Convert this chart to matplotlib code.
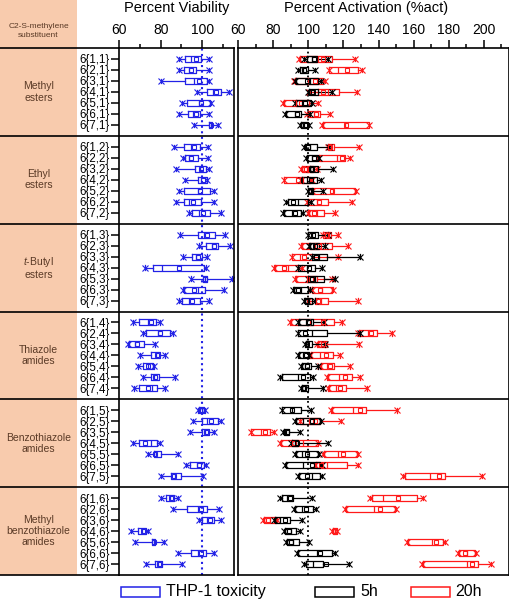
import numpy as np
import matplotlib
matplotlib.use('Agg')
import matplotlib.pyplot as plt
from matplotlib.patches import Rectangle
from matplotlib.ticker import MultipleLocator

plt.rcParams['font.family'] = ['Liberation Sans', 'DejaVu Sans']
plt.rcParams['mathtext.fontset'] = 'custom'
plt.rcParams['mathtext.it'] = 'Liberation Sans:italic'
plt.rcParams['mathtext.rm'] = 'Liberation Sans'

# Categories
groups = ['Methyl\nesters', 'Ethyl\nesters', '$t$-Butyl\nesters', 'Thiazole\namides',
          'Benzothiazole\namides', 'Methyl\nbenzothiazole\namides']
compounds = ['6{%d,%d}' % (i, g) for g in range(1, 7) for i in range(1, 8)]

# Box stats per compound: (min, q1, median, q3, max, mean)
viability = [
    (88.6, 91.9, 94.6, 99.4, 103.3, 97.0), (88.9, 91.4, 93.8, 97.0, 103.2, 94.5),
    (80.0, 91.9, 96.2, 102.5, 103.0, 98.5), (97.5, 102.5, 105.2, 108.9, 112.9, 106.8),
    (90.2, 92.7, 98.6, 103.8, 104.4, 99.5), (88.6, 93.0, 95.5, 99.0, 103.3, 97.0),
    (95.9, 103.3, 104.0, 104.9, 107.6, 104.3),
    (86.3, 91.4, 94.5, 98.9, 102.9, 95.8), (90.6, 91.9, 93.8, 98.1, 102.9, 94.8),
    (87.5, 96.5, 99.0, 101.7, 103.3, 99.5), (91.9, 97.8, 99.5, 102.2, 102.5, 100.5),
    (89.0, 91.1, 97.8, 103.8, 105.4, 99.0), (87.5, 91.4, 93.8, 99.4, 105.7, 95.5),
    (93.8, 94.9, 98.5, 103.8, 108.9, 100.2),
    (89.2, 98.1, 101.0, 106.0, 110.8, 102.5), (98.3, 102.0, 104.9, 107.6, 113.3, 105.8),
    (90.6, 94.9, 97.0, 99.8, 102.5, 98.0), (72.4, 76.3, 80.6, 101.0, 101.7, 89.0),
    (94.6, 100.2, 101.2, 102.2, 114.4, 101.5), (90.6, 91.4, 98.1, 101.4, 110.5, 96.0),
    (89.0, 90.2, 93.5, 99.0, 103.0, 95.0),
    (66.5, 69.5, 73.7, 77.6, 79.5, 75.2), (71.6, 73.2, 78.7, 84.3, 85.9, 79.5),
    (64.4, 64.8, 67.6, 72.1, 77.1, 68.5), (70.3, 75.6, 77.6, 79.5, 81.9, 78.2),
    (69.2, 71.6, 73.7, 76.3, 76.8, 74.0), (71.6, 75.6, 77.0, 79.2, 87.0, 77.5),
    (67.1, 69.5, 75.9, 78.2, 81.9, 74.0),
    (97.8, 98.6, 99.8, 101.0, 101.3, 100.0), (95.4, 99.7, 102.5, 107.6, 108.9, 104.0),
    (94.3, 99.7, 101.5, 103.3, 105.7, 102.0), (66.8, 69.5, 75.4, 78.4, 79.5, 72.5),
    (74.0, 76.8, 77.9, 80.0, 88.3, 77.5), (92.2, 94.3, 97.5, 101.0, 101.7, 98.5),
    (80.0, 84.8, 87.0, 89.8, 100.2, 86.5),
    (80.0, 82.7, 84.3, 86.3, 88.3, 84.8), (85.9, 92.7, 97.8, 102.2, 108.1, 99.5),
    (98.6, 99.7, 102.5, 105.4, 108.9, 103.5), (66.0, 69.2, 71.0, 72.9, 73.7, 71.3),
    (67.9, 75.9, 76.7, 77.5, 81.6, 76.7), (88.3, 94.6, 98.1, 101.7, 105.4, 99.5),
    (73.0, 77.1, 78.8, 80.6, 90.2, 79.0),
]

act_5h = [
    (97.5, 99.0, 102.0, 104.8, 111.4, 103.5), (94.3, 95.2, 97.0, 99.6, 103.8, 97.5),
    (92.4, 93.3, 101.0, 105.7, 107.2, 99.0), (100.0, 100.4, 103.2, 105.7, 113.3, 102.5),
    (92.4, 92.8, 96.2, 101.5, 102.3, 98.0), (87.0, 87.6, 92.4, 95.8, 101.0, 93.5),
    (95.2, 95.8, 97.5, 99.6, 100.4, 98.0),
    (97.7, 98.1, 101.0, 104.8, 111.8, 100.0), (98.5, 99.0, 101.9, 105.3, 106.1, 103.0),
    (100.4, 101.0, 102.9, 105.3, 114.3, 102.0), (95.8, 96.2, 99.0, 104.8, 107.2, 101.5),
    (99.6, 100.0, 101.5, 102.9, 108.6, 100.8), (87.6, 88.2, 94.3, 99.6, 101.5, 91.5),
    (85.7, 86.3, 90.9, 95.8, 97.1, 92.5),
    (99.6, 100.0, 101.9, 105.3, 111.4, 102.5), (100.4, 101.0, 103.2, 106.1, 109.5, 104.0),
    (101.9, 102.3, 106.1, 110.5, 129.5, 104.5), (93.9, 94.3, 99.0, 103.8, 108.0, 100.5),
    (99.6, 100.0, 103.8, 109.1, 115.2, 102.0), (91.4, 92.0, 95.8, 100.0, 101.0, 94.0),
    (97.7, 98.1, 100.0, 102.3, 103.8, 99.0),
    (94.3, 94.7, 98.5, 102.9, 109.1, 100.5), (93.9, 94.3, 101.9, 110.5, 129.5, 98.0),
    (98.1, 98.7, 100.0, 102.3, 109.5, 99.5), (94.3, 94.9, 97.1, 100.4, 100.6, 98.5),
    (95.8, 96.2, 98.1, 101.5, 105.3, 99.5), (83.8, 84.8, 94.3, 101.0, 102.9, 97.0),
    (95.8, 96.2, 98.1, 100.0, 108.6, 97.5),
    (84.8, 85.1, 90.5, 95.8, 101.5, 91.0), (92.4, 93.3, 97.1, 106.7, 107.2, 101.9),
    (85.7, 86.3, 87.6, 89.0, 95.2, 88.0), (90.1, 90.9, 92.4, 94.3, 111.0, 93.5),
    (92.4, 92.8, 96.2, 105.7, 106.2, 99.0), (86.7, 87.6, 97.1, 106.7, 107.6, 102.0),
    (93.9, 94.7, 101.9, 106.7, 108.0, 99.0),
    (83.9, 84.9, 88.0, 91.5, 101.9, 89.5), (91.9, 92.4, 96.2, 102.5, 104.4, 98.9),
    (80.6, 81.0, 84.0, 89.5, 96.2, 86.5), (86.2, 86.7, 90.0, 93.0, 95.3, 89.0),
    (87.2, 87.7, 91.2, 94.9, 100.6, 90.0), (93.7, 94.3, 104.8, 113.3, 115.2, 106.7),
    (97.7, 98.7, 102.9, 108.5, 123.3, 110.1),
]

act_20h = [
    (94.9, 95.2, 105.7, 113.3, 126.7, 108.5), (112.0, 112.0, 117.1, 128.6, 130.5, 121.9),
    (91.9, 92.4, 100.0, 108.6, 109.5, 104.0), (100.4, 105.7, 111.4, 117.5, 127.6, 108.5),
    (85.7, 86.1, 93.3, 100.4, 105.7, 96.0), (99.2, 99.6, 103.0, 106.7, 112.4, 104.5),
    (107.6, 108.6, 121.0, 134.3, 134.8, 121.5),
    (111.0, 111.4, 113.0, 114.9, 129.0, 112.5), (105.7, 106.3, 116.2, 121.0, 123.8, 119.0),
    (95.8, 96.2, 99.0, 102.9, 104.8, 98.5), (86.3, 86.3, 97.1, 101.0, 102.0, 94.0),
    (101.9, 102.3, 114.3, 126.7, 127.2, 113.5), (99.2, 99.6, 104.8, 111.4, 124.8, 106.0),
    (99.6, 100.4, 104.8, 109.1, 115.2, 103.5),
    (108.2, 108.6, 111.0, 113.0, 117.1, 110.5), (95.8, 96.2, 103.8, 113.3, 122.9, 106.0),
    (90.5, 90.9, 95.2, 102.3, 116.8, 97.5), (80.6, 81.0, 88.6, 94.3, 96.2, 86.0),
    (92.4, 92.8, 99.0, 104.8, 113.3, 101.5), (101.9, 102.3, 108.0, 113.7, 114.3, 106.5),
    (99.6, 103.8, 107.2, 111.0, 128.2, 105.3),
    (89.5, 90.1, 100.9, 114.9, 119.4, 108.5), (128.6, 128.9, 133.9, 139.0, 147.6, 136.0),
    (104.8, 105.3, 107.2, 110.5, 129.0, 108.5), (100.9, 101.5, 106.5, 114.3, 118.1, 110.0),
    (106.7, 107.2, 110.5, 114.9, 123.8, 112.5), (110.5, 111.4, 117.5, 124.8, 129.5, 121.0),
    (111.4, 112.0, 115.6, 121.3, 133.3, 118.0),
    (113.0, 113.7, 125.7, 133.0, 150.5, 129.5), (95.2, 95.2, 100.4, 106.7, 118.7, 104.0),
    (67.2, 67.6, 72.9, 78.1, 80.6, 75.5), (83.8, 84.4, 97.1, 105.3, 105.7, 92.0),
    (108.6, 109.1, 117.1, 127.6, 128.2, 120.0), (103.8, 104.2, 110.5, 121.9, 128.2, 107.0),
    (153.7, 154.9, 169.5, 178.1, 199.0, 174.3),
    (134.9, 136.1, 142.7, 162.0, 165.5, 151.2), (120.7, 121.3, 137.6, 149.3, 150.1, 140.8),
    (74.3, 74.9, 78.5, 81.9, 82.3, 77.0), (113.3, 113.9, 115.1, 116.2, 116.6, 115.0),
    (156.3, 156.9, 170.2, 176.8, 177.7, 173.0), (185.3, 185.8, 190.1, 194.9, 195.4, 189.0),
    (164.5, 165.1, 190.1, 196.8, 203.8, 193.0),
]

blue = '#2222e6'
red = '#ff1a1a'
orange = '#f8cbad'
brown = '#5a3a26'

# one row per compound, 8 rows per group (7 + spacing)
pos = [g * 8 + i + 1 for g in range(6) for i in range(7)]


def make_stats(rows):
    return [dict(whislo=r[0], q1=r[1], med=r[2], q3=r[3], whishi=r[4], mean=r[5],
                 fliers=[r[0], r[4]]) for r in rows]


def draw(ax, rows, color):
    lp = dict(color=color, lw=0.9)
    ax.bxp(make_stats(rows), positions=pos, widths=0.55, orientation='horizontal',
           showmeans=True, showfliers=True, capwidths=0.4, manage_ticks=False,
           boxprops=lp, whiskerprops=lp, capprops=lp, medianprops=lp,
           meanprops=dict(marker='s', markerfacecolor='none', markeredgecolor=color,
                          markersize=3.5, markeredgewidth=0.8),
           flierprops=dict(marker='x', markeredgecolor=color, markersize=4,
                           markeredgewidth=0.8, linestyle='none'))


W, H = 510, 600
fig = plt.figure(figsize=(W / 100, H / 100), dpi=100)

# background: orange label panel, lines, titles, legend (pixel units)
bg = fig.add_axes([0, 0, 1, 1])
bg.set_xlim(0, W)
bg.set_ylim(H, 0)
bg.axis('off')
top, bot = 48, 575
row_px = (bot - top) / 48.0
bg.add_patch(Rectangle((0, 0), 77, bot, facecolor=orange, edgecolor='none'))
for b in range(0, 49, 8):
    y = top + b * row_px
    bg.plot([0, 119], [y, y], color='k', lw=1.2)
bg.text(38.5, 31, 'C2-S-methylene\nsubstituent', ha='center', va='center',
        fontsize=6, color=brown, linespacing=1.4)
for g, name in enumerate(groups):
    bg.text(38.5, top + (g * 8 + 4) * row_px, name, ha='center', va='center',
            fontsize=7.5, color=brown, linespacing=1.15)
bg.text(176.5, 8, 'Percent Viability', ha='center', va='center', fontsize=10.5)
bg.text(366, 8, 'Percent Activation (%act)', ha='center', va='center', fontsize=10.5)

# legend
for x0, col, lab in [(120.7, blue, 'THP-1 toxicity'), (315, 'k', '5h'), (410.7, red, '20h')]:
    bg.add_patch(Rectangle((x0, 587), 39.3, 10, fill=False, edgecolor=col, lw=1.1))
    bg.text(x0 + 45, 591.5, lab, ha='left', va='center', fontsize=11.5)

ax_v = fig.add_axes([119 / W, 1 - bot / H, (233.5 - 119) / W, (bot - top) / H])
ax_a = fig.add_axes([238 / W, 1 - bot / H, (508.5 - 238) / W, (bot - top) / H])

ax_v.axvline(100, color=blue, ls=':', lw=1.5, zorder=0)
draw(ax_v, viability, blue)
ax_a.axvline(100, color='k', ls=':', lw=1.3, zorder=0)
draw(ax_a, act_20h, red)
draw(ax_a, act_5h, 'k')

for ax in (ax_v, ax_a):
    ax.set_ylim(48, 0)
    ax.xaxis.tick_top()
    ax.xaxis.set_minor_locator(MultipleLocator(10))
    ax.tick_params(axis='x', which='major', direction='out', length=6, width=1.1,
                   labelsize=10, pad=2)
    ax.tick_params(axis='x', which='minor', direction='out', length=3, width=1.1)
    for s in ax.spines.values():
        s.set_linewidth(1.2)
    for b in range(8, 48, 8):
        ax.axhline(b, color='k', lw=1.2)

ax_v.set_xlim(60, 115)
ax_v.set_xticks([60, 80, 100])
ax_v.set_yticks(pos)
ax_v.set_yticklabels(compounds, fontsize=8.3)
ax_v.tick_params(axis='y', direction='out', length=6, width=1.1, pad=1)

ax_a.set_xlim(60, 214)
ax_a.set_xticks(np.arange(60, 201, 20))
ax_a.set_yticks([])

fig.savefig('out.png', dpi=100)
